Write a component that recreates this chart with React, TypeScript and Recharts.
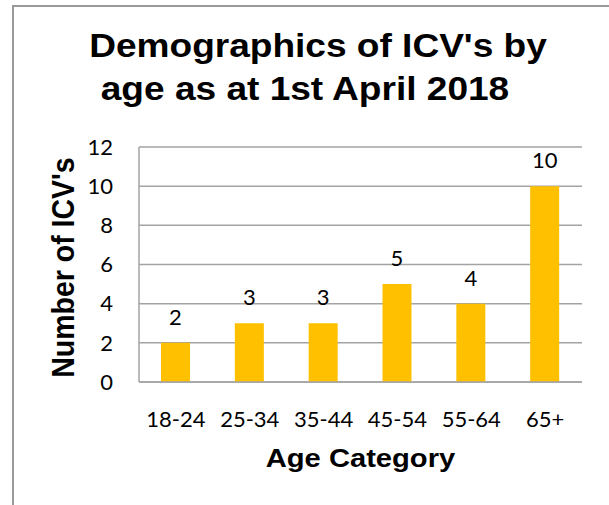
import { BarChart, Bar, XAxis, YAxis, CartesianGrid, LabelList, Label } from 'recharts';

const ageCategories = ['18-24', '25-34', '35-44', '45-54', '55-64', '65+'];
const icvCounts = [2, 3, 3, 5, 4, 10];
const yTicks = [0, 2, 4, 6, 8, 10, 12];
const titleLines = ["Demographics of ICV's by", 'age as at 1st April 2018'];
const xAxisTitle = 'Age Category';
const yAxisTitle = "Number of ICV's";

const data = ageCategories.map((age, i) => ({ age, count: icvCounts[i] }));

const GRID = '#a3a3a3';
const BAR = '#ffc000';
const BOLD_FONT = '"Liberation Sans", Arial, sans-serif';
const TICK_FONT = 'Lato, "Open Sans", sans-serif';

const XTitle = (props) => {
  const vb = props.viewBox || { x: 139, y: 382, width: 443, height: 90 };
  const cx = vb.x + vb.width / 2;
  return (
    <text
      transform={`translate(${cx},${vb.y + 85}) scale(1.1,1)`}
      textAnchor="middle"
      fontFamily={BOLD_FONT}
      fontWeight="bold"
      fontSize={26.5}
      fill="#000"
    >
      {xAxisTitle}
    </text>
  );
};

const YTitle = (props) => {
  const vb = props.viewBox || { x: 0, y: 147, width: 139, height: 235 };
  const cy = vb.y + vb.height / 2 + 3;
  return (
    <text
      transform={`translate(74,${cy}) rotate(-90) scale(1,1.1)`}
      textAnchor="middle"
      fontFamily={BOLD_FONT}
      fontWeight="bold"
      fontSize={28.5}
      fill="#000"
    >
      {yAxisTitle}
    </text>
  );
};

const App = () => {
  return (
    <div style={{ position: 'absolute', left: 0, top: 0, width: 609, height: 505, overflow: 'hidden', background: '#fff' }}>
      <BarChart
        width={609}
        height={505}
        data={data}
        margin={{ top: 147, right: 27, bottom: 33, left: 0 }}
        barSize={29}
      >
        <CartesianGrid vertical={false} stroke={GRID} strokeWidth={1.5} />
        <XAxis
          dataKey="age"
          height={90}
          tickLine={false}
          tickSize={0}
          tickMargin={29}
          axisLine={{ stroke: GRID, strokeWidth: 1.5 }}
          tick={{ fill: '#000', fontSize: 22, fontFamily: TICK_FONT }}
          interval={0}
        >
          <Label content={XTitle} />
        </XAxis>
        <YAxis
          width={139}
          domain={[0, 12]}
          ticks={yTicks}
          tickLine={false}
          tickSize={0}
          tickMargin={26}
          axisLine={{ stroke: GRID, strokeWidth: 1.5 }}
          tick={{ fill: '#000', fontSize: 22, fontFamily: TICK_FONT }}
        >
          <Label content={YTitle} />
        </YAxis>
        <Bar dataKey="count" fill={BAR} isAnimationActive={false}>
          <LabelList dataKey="count" position="top" offset={18} fill="#000" fontSize={22} fontFamily={TICK_FONT} />
        </Bar>
      </BarChart>
      <svg width={609} height={505} style={{ position: 'absolute', left: 0, top: 0, pointerEvents: 'none' }}>
        <path d="M13,505 L13,6 L609,6" fill="none" stroke="#9a9a9a" strokeWidth={2} />
        {titleLines.map((line, i) => (
          <text
            key={line}
            transform={`translate(${i === 0 ? 318 : 305},${57 + i * 43}) scale(1.1,1)`}
            textAnchor="middle"
            fontFamily={BOLD_FONT}
            fontWeight="bold"
            fontSize={33.7}
            fill="#000"
          >
            {line}
          </text>
        ))}
      </svg>
    </div>
  );
};

export default App;
